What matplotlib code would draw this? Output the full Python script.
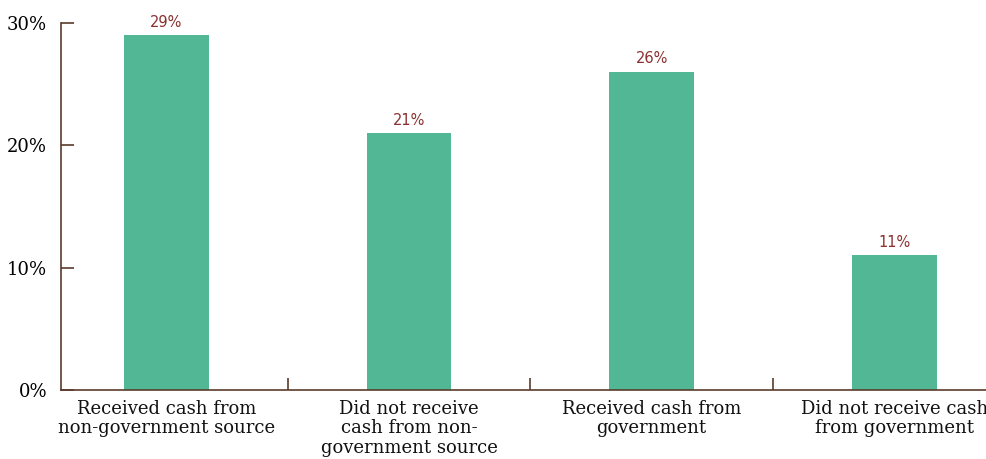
import numpy as np
import matplotlib
matplotlib.use("Agg")
import matplotlib.pyplot as plt

categories = [
    "Received cash from\nnon-government source",
    "Did not receive\ncash from non-\ngovernment source",
    "Received cash from\ngovernment",
    "Did not receive cash\nfrom government",
]
values = [29, 21, 26, 11]
y_ticks = [0, 10, 20, 30]

BAR = "#52b795"
AXIS = "#5b3b2c"
LABEL = "#8b2f2f"

fig = plt.figure(figsize=(9.87, 4.59), dpi=100)
ax = fig.add_axes([61 / 987, 69 / 459, 1 - 61 / 987, 367 / 459])

x = np.arange(len(values))
ax.bar(x, values, width=0.35, color=BAR, zorder=2)
for xi, v in zip(x, values):
    ax.annotate(f"{v}%", (xi, v), xytext=(0, 4), textcoords="offset points",
                ha="center", va="bottom", fontsize=10.5, color=LABEL,
                family="DejaVu Sans")

ax.set_xlim(-0.435, 3.383)
ax.set_ylim(0, 30)

# y axis: inward ticks, serif labels
ax.set_yticks(y_ticks)
ax.set_yticklabels([f"{t}%" for t in y_ticks], family="DejaVu Serif", fontsize=13)
ax.tick_params(axis="y", direction="in", length=9, width=1.2, color=AXIS, pad=10)

# x axis: divider ticks between categories, labels as text
ax.set_xticks([0.5, 1.5, 2.5])
ax.set_xticklabels([])
ax.tick_params(axis="x", direction="in", length=9, width=1.2, color=AXIS)
for xi, lab in zip(x, categories):
    ax.annotate(lab, (xi, 0), xytext=(0, -7), textcoords="offset points",
                ha="center", va="top", family="DejaVu Serif",
                fontsize=13, linespacing=1.12, color="#111111",
                annotation_clip=False)

for side in ["top", "right"]:
    ax.spines[side].set_visible(False)
for side in ["left", "bottom"]:
    ax.spines[side].set_color(AXIS)
    ax.spines[side].set_linewidth(1.2)

fig.savefig("out.png", dpi=100)
